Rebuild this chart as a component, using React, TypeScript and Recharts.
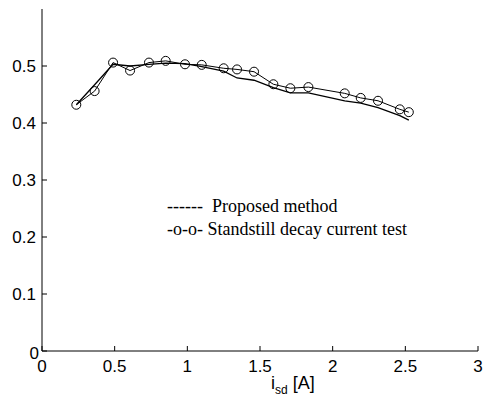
import React from "react";
import { LineChart, Line, XAxis, YAxis } from "recharts";

const currents = [0.236, 0.362, 0.489, 0.606, 0.736, 0.851, 0.984, 1.099, 1.25, 1.342, 1.459, 1.592, 1.709, 1.833, 2.083, 2.193, 2.312, 2.462, 2.524];
const proposed = [0.432, 0.467, 0.503, 0.5, 0.503, 0.505, 0.504, 0.499, 0.491, 0.479, 0.475, 0.462, 0.453, 0.453, 0.439, 0.435, 0.427, 0.413, 0.405];
const standstill = [0.432, 0.456, 0.506, 0.492, 0.506, 0.509, 0.503, 0.502, 0.496, 0.494, 0.49, 0.468, 0.461, 0.463, 0.452, 0.444, 0.439, 0.424, 0.419];
const xTicks = [0, 0.5, 1, 1.5, 2, 2.5, 3];
const yTicks = [0, 0.1, 0.2, 0.3, 0.4, 0.5];
const legendLines = ["------  Proposed method", "-o-o- Standstill decay current test"];

const data = currents.map((x, i) => ({ x, proposed: proposed[i], standstill: standstill[i] }));

const tickFont = "Liberation Sans, Arial, sans-serif";

const XTick = (props: any) => {
  const { x, y, payload } = props;
  return (
    <g>
      <line x1={x} y1={y} x2={x} y2={y - 5} stroke="#000" strokeWidth={1} />
      <text x={x} y={y + 21} textAnchor="middle" fontFamily={tickFont} fontSize={17} fill="#000">
        {String(payload.value)}
      </text>
    </g>
  );
};

const YTick = (props: any) => {
  const { x, y, payload } = props;
  const isZero = payload.value === 0;
  return (
    <g>
      <line x1={x} y1={y} x2={x + 5} y2={y} stroke="#000" strokeWidth={1} />
      <text x={x - 6 + (isZero ? 3 : 0)} y={y + 6 + (isZero ? 2 : 0)} textAnchor="end" fontFamily={tickFont} fontSize={17} fill="#000">
        {String(payload.value)}
      </text>
    </g>
  );
};

export default function App() {
  return (
    <div style={{ position: "absolute", left: 0, top: 0, width: 483, height: 396 }}>
      <LineChart width={483} height={396} data={data} margin={{ top: 9, right: 5, bottom: 15, left: 0 }}>
        <XAxis
          dataKey="x"
          type="number"
          domain={[0, 3]}
          ticks={xTicks}
          tickSize={0}
          tickMargin={0}
          tickLine={false}
          tick={<XTick />}
          axisLine={{ stroke: "#000" }}
          height={30}
          interval={0}
        />
        <YAxis
          type="number"
          domain={[0, 0.6]}
          ticks={yTicks}
          tickSize={0}
          tickMargin={0}
          tickLine={false}
          tick={<YTick />}
          axisLine={{ stroke: "#000" }}
          width={42}
          interval={0}
        />
        <Line dataKey="proposed" stroke="#000" strokeWidth={1.3} dot={false} isAnimationActive={false} />
        <Line
          dataKey="standstill"
          stroke="#000"
          strokeWidth={1}
          dot={{ r: 4.5, stroke: "#000", strokeWidth: 1, fill: "none" }}
          isAnimationActive={false}
        />
      </LineChart>
      <div style={{ position: "absolute", left: 167, top: 195, fontFamily: "Liberation Serif, Times New Roman, serif", fontSize: 18, lineHeight: "23px", color: "#000", whiteSpace: "pre" }}>
        {legendLines.map((l) => (
          <div key={l}>{l}</div>
        ))}
      </div>
      <div style={{ position: "absolute", left: 271, top: 373, fontFamily: tickFont, fontSize: 18, color: "#000", whiteSpace: "nowrap" }}>
        i<sub style={{ fontSize: 12 }}>sd</sub> [A]
      </div>
    </div>
  );
}
